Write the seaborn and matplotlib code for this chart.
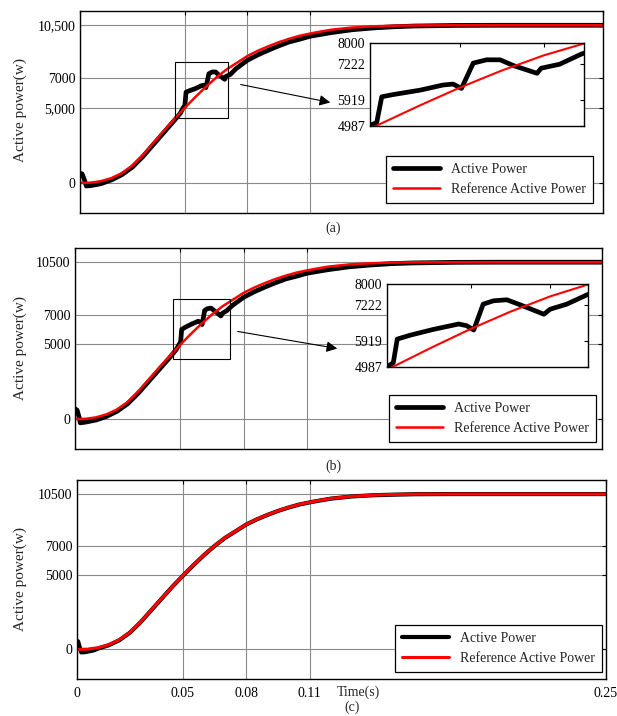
import matplotlib
matplotlib.use("Agg")
import matplotlib.pyplot as plt
from matplotlib.patches import Rectangle
import seaborn as sns

# reference active power (same in all panels)
t_ref = [0, 0.005, 0.01, 0.015, 0.02, 0.025, 0.03, 0.035, 0.04, 0.045, 0.05,
         0.055, 0.06, 0.065, 0.07, 0.075, 0.08, 0.085, 0.09, 0.095, 0.1, 0.105,
         0.11, 0.115, 0.12, 0.13, 0.14, 0.15, 0.16, 0.18, 0.2, 0.25]
p_ref = [0, 20, 120, 320, 650, 1150, 1850, 2650, 3450, 4230, 4987,
         5700, 6380, 7000, 7550, 8000, 8450, 8800, 9100, 9370, 9600, 9800,
         9950, 10080, 10200, 10350, 10430, 10470, 10490, 10500, 10500, 10500]

# measured active power, panel (a)
t_a = [0, 0.001, 0.002, 0.003, 0.005, 0.01, 0.015, 0.02, 0.025, 0.03, 0.035,
       0.04, 0.045, 0.048, 0.0493, 0.0501, 0.0507, 0.0521, 0.0553, 0.058,
       0.0592, 0.0602, 0.0616, 0.0632, 0.0648, 0.0664, 0.0692, 0.0697,
       0.0719, 0.0745, 0.08, 0.085, 0.09, 0.095, 0.1, 0.105, 0.11, 0.12,
       0.13, 0.14, 0.15, 0.16, 0.18, 0.2, 0.25]
p_a = [650, 600, 250, -200, -180, -50, 200, 550, 1050, 1750, 2550,
       3350, 4150, 4650, 5011, 5110, 6048, 6130, 6290, 6475,
       6510, 6350, 7270, 7390, 7390, 7180, 6900, 7085,
       7230, 7600, 8170, 8530, 8840, 9130, 9390, 9570, 9770, 10010,
       10200, 10320, 10400, 10450, 10490, 10500, 10500]

# measured active power, panel (b)
t_b = [0, 0.001, 0.002, 0.0025, 0.005, 0.01, 0.015, 0.02, 0.025, 0.03, 0.035,
       0.04, 0.045, 0.048, 0.0495, 0.0501, 0.0506, 0.0523, 0.0552, 0.0584,
       0.0594, 0.0603, 0.0615, 0.0628, 0.0645, 0.0662, 0.0692, 0.07,
       0.0721, 0.0747, 0.08, 0.085, 0.09, 0.095, 0.1, 0.105, 0.11, 0.12,
       0.13, 0.14, 0.15, 0.16, 0.18, 0.2, 0.25]
p_b = [690, 600, 100, -250, -200, -60, 180, 530, 1030, 1730, 2530,
       3330, 4130, 4650, 5024, 5146, 6000, 6146, 6353, 6548,
       6487, 6329, 7268, 7390, 7427, 7244, 6902, 7085,
       7268, 7610, 8150, 8520, 8830, 9120, 9380, 9560, 9760, 10000,
       10190, 10310, 10400, 10450, 10490, 10500, 10500]

# measured active power, panel (c)
t_c = [0, 0.0005, 0.001, 0.002, 0.004, 0.008, 0.01, 0.015, 0.02, 0.025, 0.03,
       0.035, 0.04, 0.045, 0.05, 0.055, 0.06, 0.065, 0.07, 0.075, 0.08, 0.085,
       0.09, 0.095, 0.1, 0.105, 0.11, 0.115, 0.12, 0.13, 0.14, 0.15, 0.16,
       0.18, 0.2, 0.25]
p_c = [400, 550, 300, -200, -180, -60, 60, 280, 620, 1130, 1830,
       2630, 3430, 4230, 4970, 5690, 6370, 6990, 7540, 7990, 8440, 8790,
       9090, 9360, 9590, 9790, 9940, 10070, 10190, 10340, 10420, 10460, 10490,
       10500, 10500, 10500]

y_ticks = [0, 5000, 7000, 10500]
x_ticks = [0, 0.05, 0.08, 0.11, 0.25]
x_ticklabels = ['0', '0.05', '0.08', '0.11', '0.25']
inset_yticks = [4987, 5919, 7222, 8000]

sns.set_style('white')
plt.rcParams['font.family'] = ['Liberation Serif', 'DejaVu Serif']
plt.rcParams['font.size'] = 10

W, H = 617, 716
fig = plt.figure(figsize=(W / 100, H / 100), dpi=100)


def rect(l, t, r, b):
    return [l / W, 1 - b / H, (r - l) / W, (b - t) / H]


def style_axes(ax):
    for s in ax.spines.values():
        s.set_color('black')
        s.set_linewidth(1.0)
    ax.tick_params(direction='in', top=True, right=True, length=3,
                   width=0.8, colors='black', labelsize=10)


def draw_panel(box, t_meas, p_meas, ylabels, lw_black, lw_red, legend_anchor):
    ax = fig.add_axes(rect(*box))
    sns.lineplot(x=t_meas, y=p_meas, ax=ax, color='black', linewidth=lw_black,
                 estimator=None, label='Active Power')
    sns.lineplot(x=t_ref, y=p_ref, ax=ax, color='#ff0000', linewidth=lw_red,
                 estimator=None, label='Reference Active Power')
    ax.set_xlim(0, 0.25)
    ax.set_ylim(-2000, 11450)
    ax.set_xticks(x_ticks)
    ax.set_yticks(y_ticks)
    ax.set_yticklabels(ylabels)
    ax.grid(True, color='#8a8a8a', linewidth=0.8)
    ax.set_xlabel('')
    ax.set_ylabel('')
    style_axes(ax)
    leg = ax.legend(loc='lower right', bbox_to_anchor=legend_anchor,
                    borderaxespad=0, fancybox=False, framealpha=1,
                    edgecolor='black', handlelength=3.4, fontsize=10,
                    borderpad=0.5, labelspacing=0.5)
    leg.get_frame().set_linewidth(0.9)
    return ax


def draw_inset(box, t_meas, p_meas):
    ins = fig.add_axes(rect(*box))
    ins.set_facecolor('white')
    sns.lineplot(x=t_meas, y=p_meas, ax=ins, color='black', linewidth=3.4,
                 estimator=None)
    sns.lineplot(x=t_ref, y=p_ref, ax=ins, color='#ff0000', linewidth=1.5,
                 estimator=None)
    ins.set_xlim(0.0493, 0.0748)
    ins.set_ylim(4987, 8000)
    ins.set_xticks([0.06, 0.07])
    ins.set_xticklabels([])
    ins.set_yticks(inset_yticks)
    ins.set_yticklabels([str(v) for v in inset_yticks])
    ins.set_xlabel('')
    ins.set_ylabel('')
    style_axes(ins)
    return ins


# panel (a)
ax_a = draw_panel((80, 11, 603, 213), t_a, p_a, ['0', '5,000', '7000', '10,500'],
                  3.4, 1.8, (0.981, 0.05))
ax_a.set_xticklabels([])
ax_a.add_patch(Rectangle((0.0454, 4320), 0.0253, 3720, fill=False,
                         edgecolor='black', linewidth=0.8, zorder=5))
draw_inset((370, 43, 584, 126), t_a, p_a)
ax_a.annotate('', xy=(333 / W, 1 - 103 / H), xytext=(238 / W, 1 - 84 / H),
              xycoords='figure fraction', textcoords='figure fraction',
              arrowprops=dict(arrowstyle='-|>', color='black', lw=0.8,
                              mutation_scale=16))

# panel (b)
ax_b = draw_panel((75, 248, 602, 449), t_b, p_b, ['0', '5000', '7000', '10500'],
                  3.4, 1.8, (0.989, 0.035))
ax_b.set_xticklabels([])
ax_b.add_patch(Rectangle((0.0465, 4010), 0.027, 4030, fill=False,
                         edgecolor='black', linewidth=0.8, zorder=5))
draw_inset((387, 284, 588, 367), t_b, p_b)
ax_b.annotate('', xy=(340 / W, 1 - 349 / H), xytext=(235 / W, 1 - 331 / H),
              xycoords='figure fraction', textcoords='figure fraction',
              arrowprops=dict(arrowstyle='-|>', color='black', lw=0.8,
                              mutation_scale=16))

# panel (c)
ax_c = draw_panel((77, 480, 606, 679), t_c, p_c, ['0', '5000', '7000', '10500'],
                  3.0, 2.2, (0.992, 0.035))
ax_c.set_xticklabels(x_ticklabels)
ax_c.tick_params(axis='x', pad=6)
fig.text(358 / W, 1 - 692 / H, 'Time(s)', ha='center', va='center', fontsize=10)

# y labels and captions
for yc in (110, 348, 579):
    fig.text(20 / W, 1 - yc / H, 'Active power(w)', rotation=90,
             ha='center', va='center', fontsize=11)
fig.text(333 / W, 1 - 228 / H, '(a)', ha='center', va='center', fontsize=10)
fig.text(333 / W, 1 - 466 / H, '(b)', ha='center', va='center', fontsize=10)
fig.text(352 / W, 2 / H, '(c)', ha='center', va='bottom', fontsize=10)

fig.savefig('out.png', dpi=100)
